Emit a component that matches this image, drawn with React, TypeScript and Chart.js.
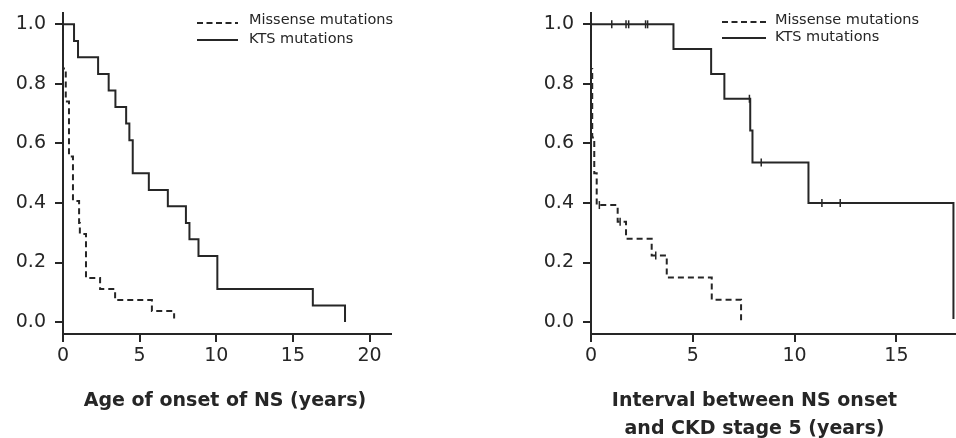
import React, { useEffect, useRef } from "react";
import { Chart, registerables } from "chart.js";

Chart.register(...registerables);

// ---------- data ----------
const seriesLabels = ["Missense mutations", "KTS mutations"];
const yTicks = [0, 0.2, 0.4, 0.6, 0.8, 1.0];
const leftXTicks = [0, 5, 10, 15, 20];
const rightXTicks = [0, 5, 10, 15];

// Left panel: age of onset of NS (years)
const leftMisTimes = [0, 0, 0.18, 0.39, 0.65, 1.05, 1.1, 1.5, 2.42, 3.4, 5.8, 7.25];
const leftMisSurv = [1.0, 0.852, 0.741, 0.556, 0.407, 0.333, 0.296, 0.148, 0.111, 0.074, 0.037, 0.012];
const leftKtsTimes = [0, 0.72, 0.98, 2.29, 2.98, 3.42, 4.12, 4.33, 4.55, 5.6, 6.84, 8.02, 8.25, 8.84, 10.07, 16.3, 18.4];
const leftKtsSurv = [1.0, 0.944, 0.889, 0.833, 0.778, 0.722, 0.667, 0.611, 0.5, 0.444, 0.389, 0.333, 0.278, 0.222, 0.111, 0.056, 0.0];

// Right panel: interval between NS onset and CKD stage 5 (years)
const rightMisTimes = [0, 0, 0.06, 0.16, 0.28, 1.31, 1.72, 2.98, 3.72, 5.93, 7.37];
const rightMisSurv = [1.0, 0.85, 0.62, 0.5, 0.393, 0.337, 0.28, 0.224, 0.15, 0.075, 0.0];
const rightMisCensorTimes = [0.41, 1.43, 3.18];
const rightMisCensorSurv = [0.393, 0.337, 0.224];
const rightKtsTimes = [0, 4.05, 5.9, 6.55, 7.82, 7.93, 10.68, 17.8];
const rightKtsSurv = [1.0, 0.917, 0.833, 0.75, 0.643, 0.536, 0.4, 0.01];
const rightKtsCensorTimes = [1.02, 1.72, 1.85, 2.68, 2.78, 7.78, 8.36, 11.34, 12.24];
const rightKtsCensorSurv = [1.0, 1.0, 1.0, 1.0, 1.0, 0.75, 0.536, 0.4, 0.4];

// ---------- style ----------
const INK = "#262626";
const FONT = "'DejaVu Sans', Verdana, sans-serif";

const pts = (t: number[], s: number[]) => t.map((x, i) => ({ x, y: s[i] }));

const kmLegend = {
  id: "kmLegend",
  afterDraw(chart: any, _args: any, opts: any) {
    const ctx = chart.ctx;
    ctx.save();
    ctx.strokeStyle = INK;
    ctx.fillStyle = INK;
    ctx.lineWidth = 1.8;
    ctx.font = `14.5px ${FONT}`;
    ctx.textBaseline = "middle";
    ctx.textAlign = "left";
    opts.rows.forEach((row: any, i: number) => {
      ctx.setLineDash(row.dash);
      ctx.beginPath();
      ctx.moveTo(opts.x0, row.lineY);
      ctx.lineTo(opts.x1, row.lineY);
      ctx.stroke();
      ctx.setLineDash([]);
      ctx.fillText(seriesLabels[i], opts.textX, row.textY);
    });
    ctx.restore();
  },
};

function buildConfig(p: any) {
  const lineDs = (label: string, data: any[], dash: number[]) => ({
    type: "line",
    label,
    data,
    stepped: "before",
    borderColor: INK,
    borderWidth: 2,
    borderDash: dash,
    pointRadius: 0,
    fill: false,
    clip: false,
  });
  const censorDs = (data: any[]) => ({
    type: "scatter",
    data,
    showLine: false,
    pointStyle: "line",
    rotation: 90,
    pointRadius: 4,
    borderColor: INK,
    backgroundColor: INK,
    borderWidth: 1.5,
    clip: false,
  });
  const datasets: any[] = [
    lineDs(seriesLabels[0], p.mis, [6, 4]),
    lineDs(seriesLabels[1], p.kts, []),
  ];
  if (p.misCensor) datasets.push(censorDs(p.misCensor));
  if (p.ktsCensor) datasets.push(censorDs(p.ktsCensor));

  const tickFont = { family: FONT, size: 19 };
  return {
    type: "line",
    data: { datasets },
    plugins: [kmLegend],
    options: {
      responsive: false,
      animation: false,
      devicePixelRatio: 1,
      events: [],
      layout: { padding: { left: 0, top: 13, right: p.padRight, bottom: 0 } },
      plugins: {
        legend: { display: false },
        tooltip: { enabled: false },
        title: { display: false },
        kmLegend: p.legend,
      },
      scales: {
        x: {
          type: "linear",
          min: 0,
          max: p.xMax,
          afterBuildTicks: (s: any) => {
            s.ticks = p.xTicks.map((v: number) => ({ value: v }));
          },
          afterFit: (s: any) => {
            s.height = 104;
            s.paddingLeft = 0;
            s.paddingRight = 0;
          },
          ticks: { font: tickFont, color: INK, padding: 3, maxRotation: 0, autoSkip: false },
          grid: { drawOnChartArea: false, drawTicks: true, tickLength: 8, color: INK, lineWidth: 2 },
          border: { display: true, color: INK, width: 2 },
        },
        y: {
          type: "linear",
          min: -0.04,
          max: 1.038,
          afterBuildTicks: (s: any) => {
            s.ticks = yTicks.map((v) => ({ value: v }));
          },
          afterFit: (s: any) => {
            s.width = p.yWidth;
            s.paddingTop = 0;
            s.paddingBottom = 0;
          },
          ticks: {
            font: tickFont,
            color: INK,
            padding: 9,
            autoSkip: false,
            callback: (v: any) => Number(v).toFixed(1),
          },
          grid: { drawOnChartArea: false, drawTicks: true, tickLength: 8, color: INK, lineWidth: 2 },
          border: { display: true, color: INK, width: 2 },
        },
      },
    },
  };
}

function KMChart({ cfg, left, width }: { cfg: any; left: number; width: number }) {
  const ref = useRef<HTMLCanvasElement>(null);
  useEffect(() => {
    if (!ref.current) return;
    const chart = new Chart(ref.current, buildConfig(cfg) as any);
    return () => chart.destroy();
  }, []);
  return (
    <canvas
      ref={ref}
      width={width}
      height={438}
      style={{ position: "absolute", left, top: 0, width, height: 438 }}
    />
  );
}

const titleStyle: React.CSSProperties = {
  position: "absolute",
  width: 400,
  textAlign: "center",
  fontFamily: FONT,
  fontWeight: "bold",
  fontSize: 19,
  lineHeight: "28px",
  color: INK,
  top: 385,
  whiteSpace: "nowrap",
};

export default function App() {
  const leftCfg = {
    mis: pts(leftMisTimes, leftMisSurv),
    kts: pts(leftKtsTimes, leftKtsSurv),
    xMax: 21.4,
    xTicks: leftXTicks,
    yWidth: 63,
    padRight: 87,
    legend: {
      x0: 197,
      x1: 238,
      textX: 249,
      rows: [
        { lineY: 23, textY: 20.5, dash: [6, 3.5] },
        { lineY: 40, textY: 39.5, dash: [] },
      ],
    },
  };
  const rightCfg = {
    mis: pts(rightMisTimes, rightMisSurv),
    kts: pts(rightKtsTimes, rightKtsSurv),
    misCensor: pts(rightMisCensorTimes, rightMisCensorSurv),
    ktsCensor: pts(rightKtsCensorTimes, rightKtsCensorSurv),
    xMax: 17.95,
    xTicks: rightXTicks,
    yWidth: 113,
    padRight: 0,
    legend: {
      x0: 244,
      x1: 288,
      textX: 297,
      rows: [
        { lineY: 22, textY: 20, dash: [6, 3.5] },
        { lineY: 38, textY: 37.5, dash: [] },
      ],
    },
  };
  return (
    <div style={{ position: "absolute", left: 0, top: 0, width: 956, height: 438, background: "#fff", overflow: "hidden" }}>
      <KMChart cfg={leftCfg} left={0} width={478} />
      <KMChart cfg={rightCfg} left={478} width={484} />
      <div style={{ ...titleStyle, left: 25 }}>Age of onset of NS (years)</div>
      <div style={{ ...titleStyle, left: 554.5 }}>
        Interval between NS onset
        <br />
        and CKD stage 5 (years)
      </div>
    </div>
  );
}
